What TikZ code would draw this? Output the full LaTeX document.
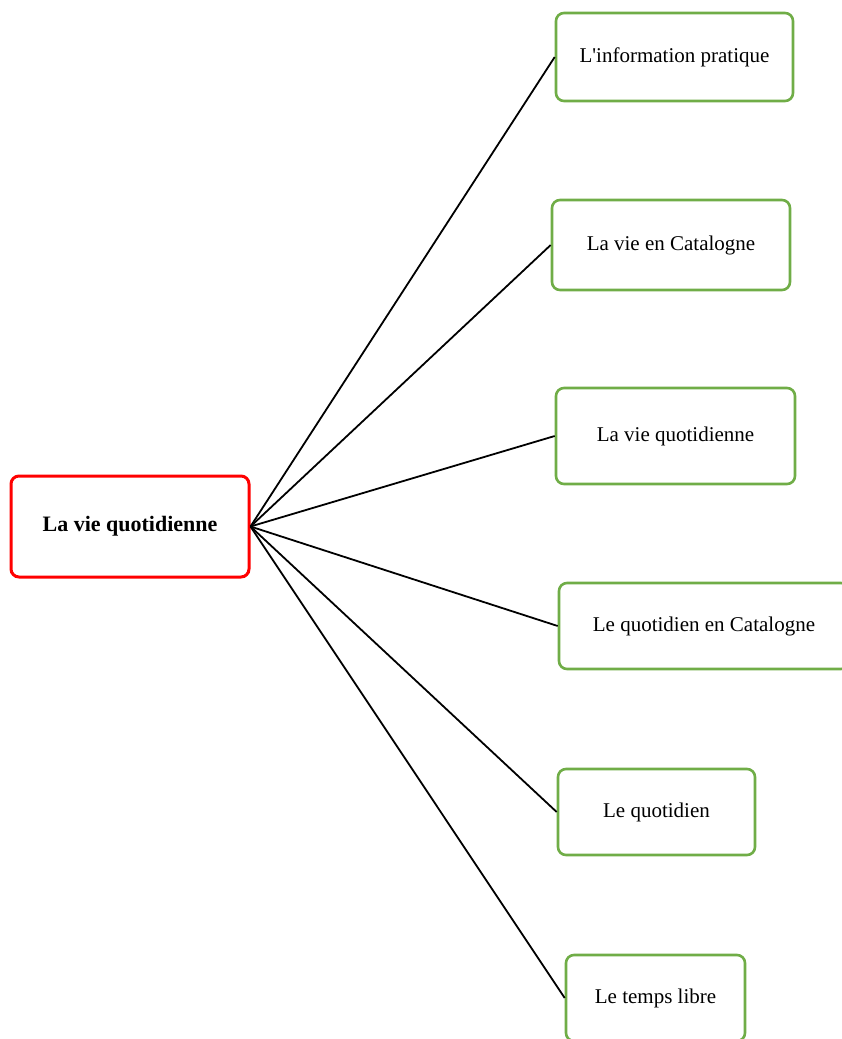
\documentclass[tikz,border=0pt]{standalone}
\usepackage{fontspec}
\setmainfont{Liberation Serif}
\begin{document}
\begin{tikzpicture}[x=1pt,y=-1pt,
  rootbox/.style={draw=red, line width=3pt, rounded corners=8pt, fill=white,
    minimum width=238pt, minimum height=101pt, inner sep=0pt,
    font=\fontsize{22}{26}\selectfont\bfseries},
  leafbox/.style={draw=leafgreen, line width=2.6pt, rounded corners=8pt, fill=white,
    inner sep=0pt, font=\fontsize{21}{25}\selectfont},
  link/.style={draw=black, line width=1.8pt}]
\definecolor{leafgreen}{RGB}{112,173,71}
\useasboundingbox (0,0) rectangle (841,1039);
\node[rootbox] (root) at (130,526.5) {La vie quotidienne};
\node[leafbox, minimum width=237pt, minimum height=88pt] (n1) at (674.5,57) {L\textquotesingle information pratique};
\node[leafbox, minimum width=238pt, minimum height=90pt] (n2) at (671,245) {La vie en Catalogne};
\node[leafbox, minimum width=239pt, minimum height=96pt] (n3) at (675.5,436) {La vie quotidienne};
\node[leafbox, minimum width=290pt, minimum height=86pt] (n4) at (704,626) {Le quotidien en Catalogne};
\node[leafbox, minimum width=197pt, minimum height=86pt] (n5) at (656.5,812) {Le quotidien};
\node[leafbox, minimum width=179pt, minimum height=86pt] (n6) at (655.5,998) {Le temps libre};
\foreach \n in {n1,n2,n3,n4,n5,n6}
  \draw[link] (root.east) -- (\n.west);
\end{tikzpicture}
\end{document}
